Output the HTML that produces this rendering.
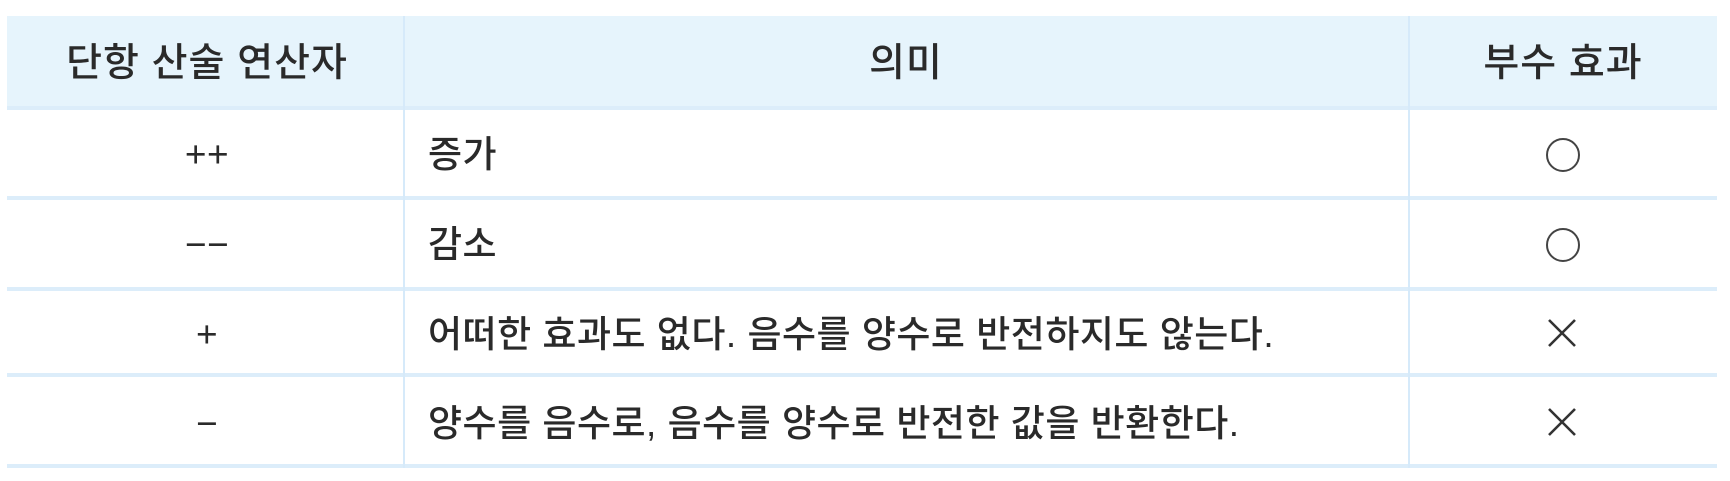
<!DOCTYPE html>
<html><head><meta charset="utf-8"><style>
body{margin:0;width:1730px;height:481px;background:#fff;font-family:"Liberation Sans","Noto Sans CJK KR","NanumGothic",sans-serif;color:#333;overflow:hidden;position:relative}
.hdr{position:absolute;left:7px;top:16px;width:1710px;height:92px;background:#e6f4fc}
.h{position:absolute;left:7px;width:1710px;height:4px;background:#dcedfa}
.v{position:absolute;width:2px;background:#d6eafa}
.t{position:absolute;font-size:37px;line-height:40px;white-space:nowrap;font-weight:500;letter-spacing:0.5px;color:#2a2a2a}
.hd{font-size:39px;letter-spacing:1px;font-weight:500}
.c{transform:translateX(-50%)}
.circ{position:absolute;width:30px;height:30px;border:2px solid #444;border-radius:50%}
.x{position:absolute;width:30px;height:30px}
</style></head><body>
<div class="hdr"></div>
<div class="h" style="top:106px"></div>
<div class="h" style="top:196px"></div>
<div class="h" style="top:287px"></div>
<div class="h" style="top:373px"></div>
<div class="h" style="top:464px"></div>
<div class="v" style="left:403px;top:16px;height:452px"></div>
<div class="v" style="left:1408px;top:16px;height:452px"></div>

<div class="t c hd" style="left:207px;top:44px">단항 산술 연산자</div>
<div class="t c hd" style="left:906px;top:44px">의미</div>
<div class="t c hd" style="left:1563px;top:44px">부수 효과</div>

<div class="t c" style="left:207px;top:135px">++</div>
<div class="t" style="left:428px;top:135px">증가</div>
<div class="circ" style="left:1546px;top:138px"></div>

<div class="t c" style="left:207px;top:225px">−−</div>
<div class="t" style="left:428px;top:225px">감소</div>
<div class="circ" style="left:1546px;top:228px"></div>

<div class="t c" style="left:207px;top:315px">+</div>
<div class="t" style="left:428px;top:315px">어떠한 효과도 없다. 음수를 양수로 반전하지도 않는다.</div>
<svg class="x" style="left:1547px;top:318px" viewBox="0 0 30 30"><path d="M2 2L28 28M28 2L2 28" stroke="#333" stroke-width="2.6"/></svg>

<div class="t c" style="left:207px;top:404px">−</div>
<div class="t" style="left:428px;top:404px">양수를 음수로, 음수를 양수로 반전한 값을 반환한다.</div>
<svg class="x" style="left:1547px;top:407px" viewBox="0 0 30 30"><path d="M2 2L28 28M28 2L2 28" stroke="#333" stroke-width="2.6"/></svg>
</body></html>
